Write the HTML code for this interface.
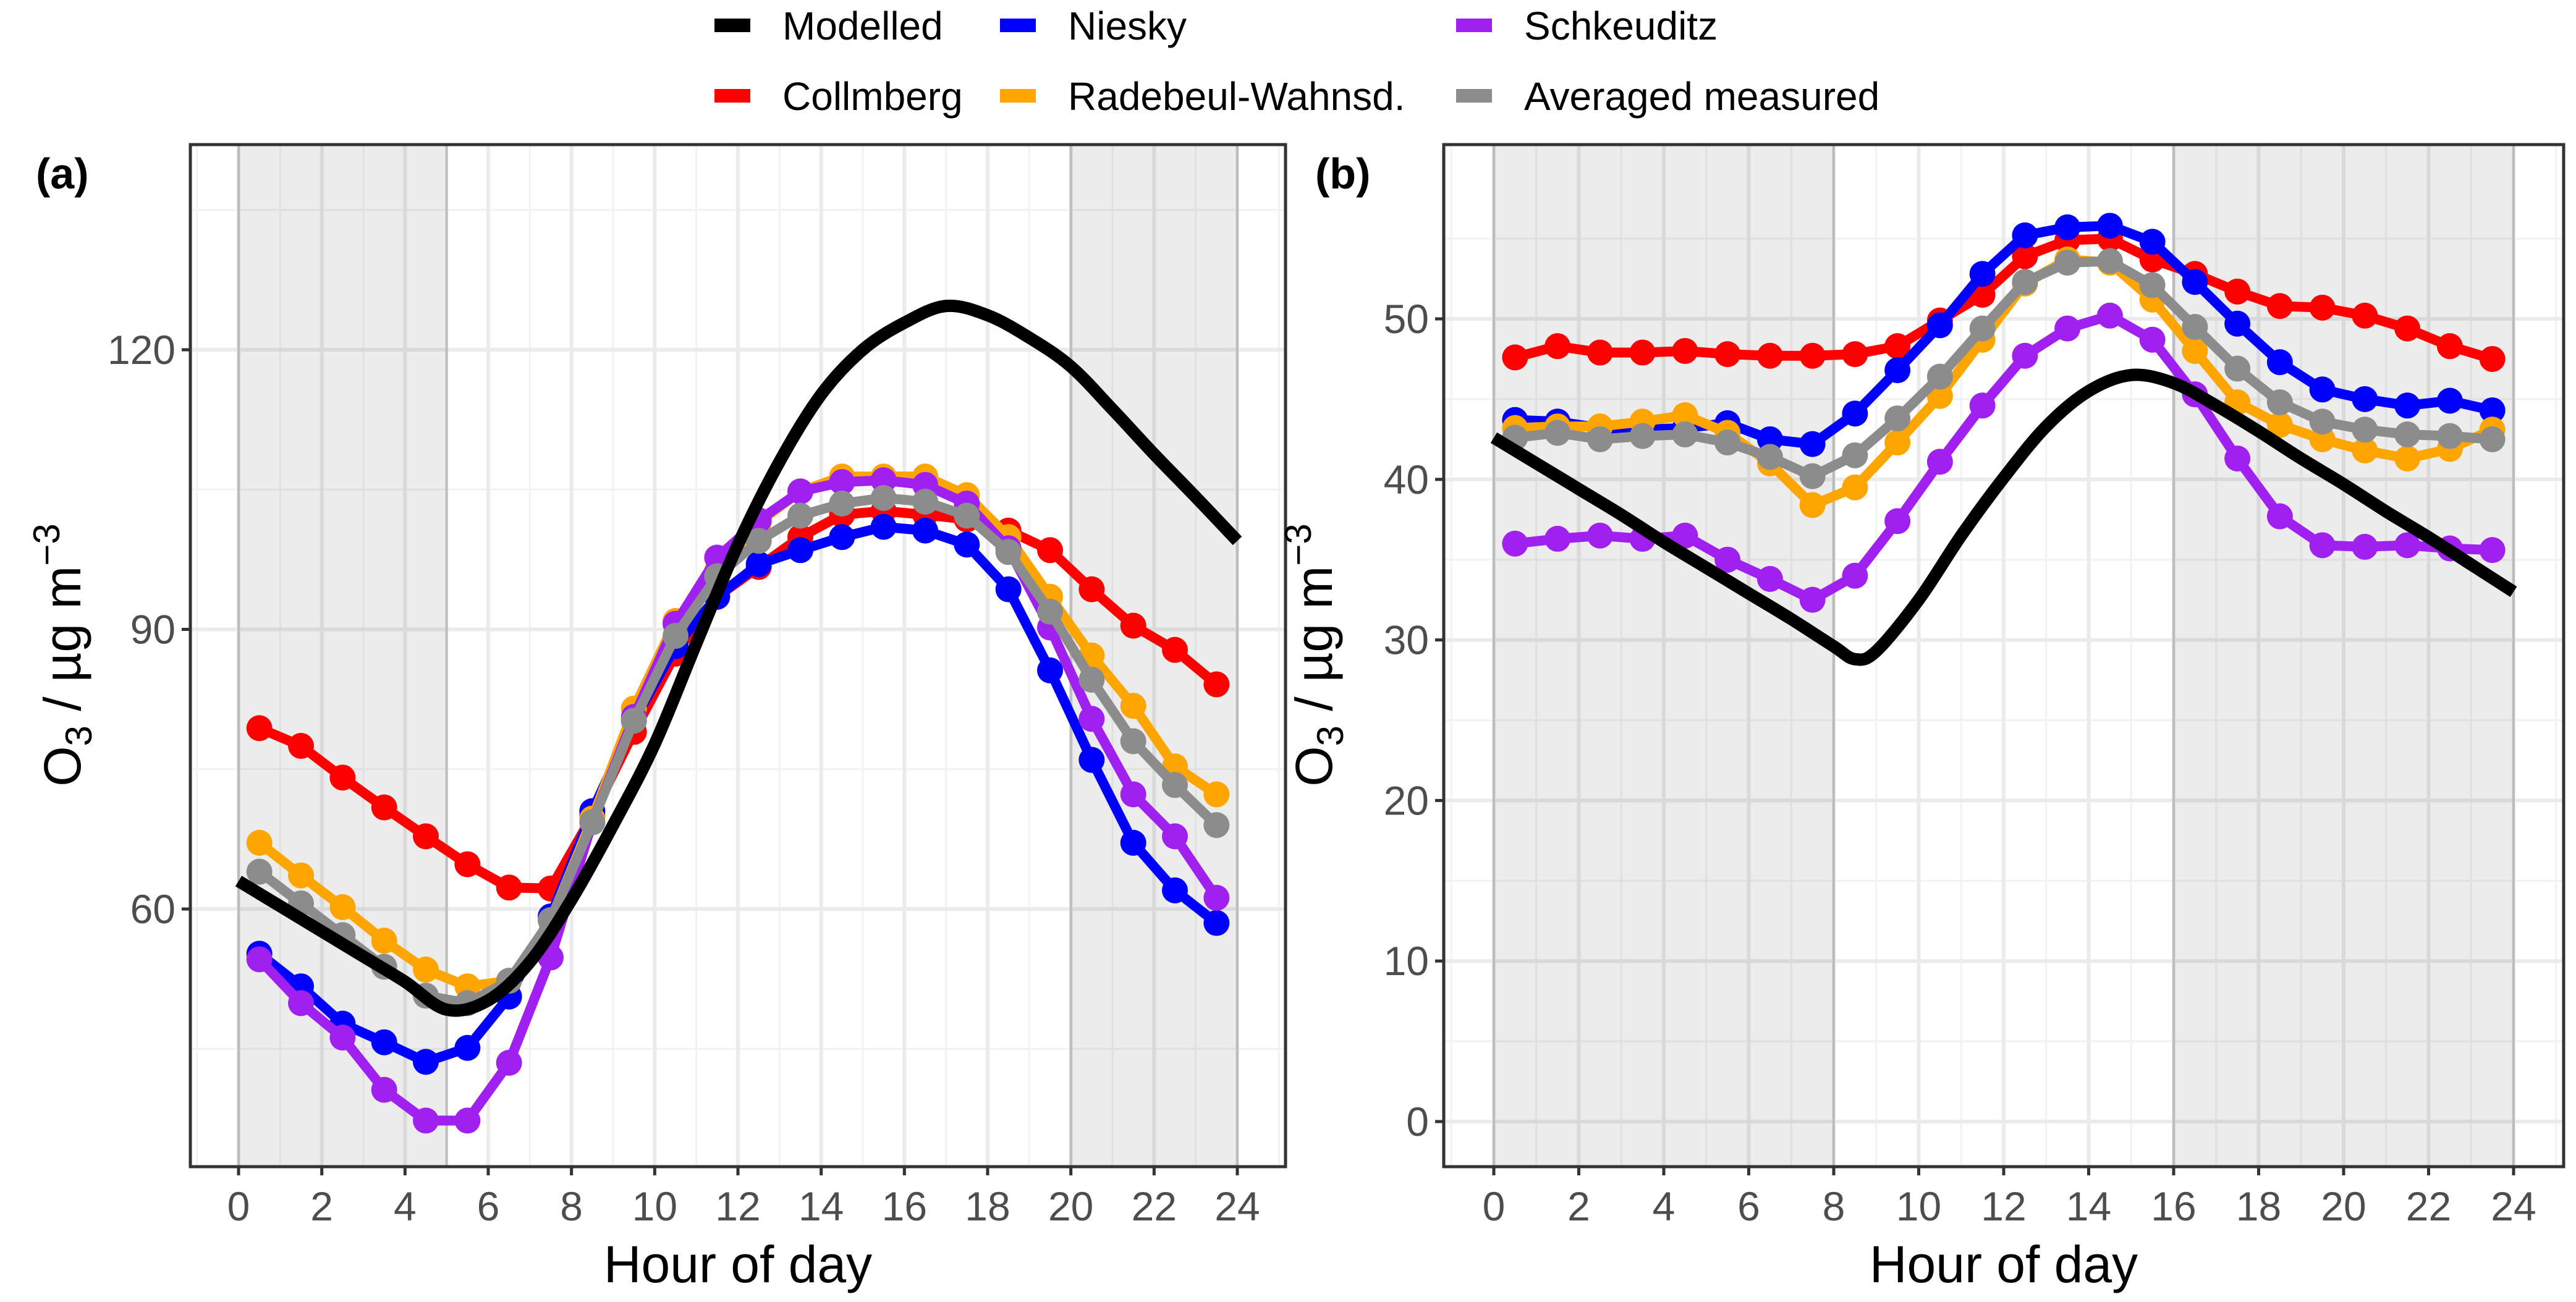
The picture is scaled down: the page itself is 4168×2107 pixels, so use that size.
<!DOCTYPE html>
<html><head><meta charset="utf-8"><style>
body{margin:0;background:#fff}
svg{display:block;font-family:"Liberation Sans",sans-serif}
</style></head><body>
<svg id="chart" width="4168" height="2107" viewBox="0 0 4168 2107" xmlns="http://www.w3.org/2000/svg">
<g id="legend"></g>
<g id="pa"></g>
<g id="pb"></g>
</svg>
<script>
const hours = [0.5,1.5,2.5,3.5,4.5,5.5,6.5,7.5,8.5,9.5,10.5,11.5,12.5,13.5,14.5,15.5,16.5,17.5,18.5,19.5,20.5,21.5,22.5,23.5];
const seriesNames = ["Collmberg","Niesky","Radebeul-Wahnsd.","Schkeuditz","Averaged measured"];
const aCollmberg = [79.4,77.5,74.1,70.9,67.8,64.8,62.3,62.2,70,79,87.4,93.5,96.7,99.9,102.3,102.7,102.3,101.8,100.6,98.5,94.3,90.4,87.8,84.1];
const aNiesky = [55.2,51.7,47.7,45.7,43.6,45.1,50.6,59.2,70.5,80.2,88.2,93.5,97.0,98.5,99.9,101.0,100.6,99.1,94.3,85.6,76.0,67.1,62.0,58.5];
const aRadebeul = [67.1,63.6,60.2,56.6,53.5,51.7,52.3,58.8,69.7,81.5,90.9,96.3,101.5,104.8,106.4,106.4,106.4,104.4,99.9,93.5,87.2,81.8,75.3,72.3];
const aSchkeuditz = [54.6,49.9,46.2,40.6,37.3,37.3,43.5,54.8,69.3,80.6,90.6,97.7,101.7,104.8,105.8,106.0,105.5,103.5,98.7,90.2,80.4,72.3,67.8,61.2];
const aAveraged = [64.0,60.6,57.2,53.8,50.7,49.9,52.3,58.8,69.3,80.2,89.3,95.7,99.5,102.2,103.5,104.1,103.7,102.2,98.3,91.9,84.6,78.0,73.3,69.0];
const aModelHours = [0,1,2,3,4,5,6,7,8,9,10,11,12,13,14,15,16,17,18,19,20,21,22,23,24];
const aModelled = [63,60.3,57.6,54.9,52.2,49.2,50.2,54.3,61.0,69.0,77.7,88.5,99.1,108.0,115.2,120.0,122.9,124.7,123.7,121.3,118.2,113.6,108.8,104.2,99.5];
const bCollmberg = [47.6,48.3,47.9,47.9,48.0,47.8,47.7,47.7,47.8,48.3,49.9,51.5,53.9,54.9,55.0,53.7,52.8,51.7,50.8,50.7,50.2,49.4,48.3,47.5];
const bNiesky = [43.7,43.6,43.2,43.1,43.2,43.5,42.5,42.2,44.1,46.8,49.6,52.8,55.2,55.7,55.8,54.8,52.3,49.7,47.3,45.6,45.0,44.6,44.9,44.3];
const bRadebeul = [43.2,43.3,43.3,43.6,44.0,42.9,41.0,38.4,39.5,42.3,45.2,48.7,52.2,53.7,53.5,51.2,48.0,44.8,43.4,42.5,41.8,41.3,41.9,43.1];
const bSchkeuditz = [36.0,36.3,36.5,36.3,36.5,35.0,33.8,32.5,34.0,37.4,41.1,44.6,47.7,49.4,50.2,48.7,45.3,41.3,37.7,35.9,35.8,35.9,35.7,35.6];
const bAveraged = [42.6,42.9,42.5,42.7,42.8,42.3,41.4,40.2,41.5,43.8,46.4,49.4,52.3,53.5,53.6,52.1,49.5,46.9,44.8,43.6,43.1,42.8,42.7,42.5];
const bModelHours = [0,1,2,3,4,5,6,7,8,8.5,9,10,11,12,13,14,15,16,17,18,19,20,21,22,23,24];
const bModelled = [42.6,41.0,39.4,37.8,36.1,34.5,32.9,31.3,29.6,28.8,29.3,32.5,36.5,40.1,43.3,45.5,46.5,46.0,44.6,43.0,41.3,39.7,38.0,36.4,34.7,33.0];
const xTicks = [0,2,4,6,8,10,12,14,16,18,20,22,24];
const aYTicks = [60,90,120];
const bYTicks = [0,10,20,30,40,50];

const NS="http://www.w3.org/2000/svg";
function mk(parent,tag,attrs){const e=document.createElementNS(NS,tag);for(const k in attrs)e.setAttribute(k,attrs[k]);parent.appendChild(e);return e;}
const colors={"Collmberg":"#ff0000","Niesky":"#0000ff","Radebeul-Wahnsd.":"#ffa500","Schkeuditz":"#a020f0","Averaged measured":"#8c8c8c"};

function smoothPath(pts){
  let d="M"+pts[0][0]+","+pts[0][1];
  for(let i=0;i<pts.length-1;i++){
    const p0=pts[Math.max(0,i-1)],p1=pts[i],p2=pts[i+1],p3=pts[Math.min(pts.length-1,i+2)];
    const c1=[p1[0]+(p2[0]-p0[0])/6,p1[1]+(p2[1]-p0[1])/6];
    const c2=[p2[0]-(p3[0]-p1[0])/6,p2[1]-(p3[1]-p1[1])/6];
    d+=" C"+c1[0]+","+c1[1]+" "+c2[0]+","+c2[1]+" "+p2[0]+","+p2[1];
  }
  return d;
}

function panel(g,cfg){
  const {L,R,T,B,x0px,x24px,ymin,ymax,yv1,yp1,yv2,yp2}=cfg;
  const sx=h=>x0px+(x24px-x0px)*h/24;
  const sy=v=>yp1+(v-yv1)*(yp2-yp1)/(yv2-yv1);
  const bg=mk(g,"rect",{x:L,y:T,width:R-L,height:B-T,fill:"#fff"});
  
  
  // minor y grid
  for(const v of cfg.yMinor){mk(g,"line",{x1:L,x2:R,y1:sy(v),y2:sy(v),stroke:"#f2f2f2","stroke-width":3});}
  for(let h=-1;h<=25;h+=2){const x=sx(h);if(x>L&&x<R)mk(g,"line",{x1:x,x2:x,y1:T,y2:B,stroke:"#f2f2f2","stroke-width":3});}
  for(const v of cfg.yTicks){mk(g,"line",{x1:L,x2:R,y1:sy(v),y2:sy(v),stroke:"#ebebeb","stroke-width":6});}
  for(const h of xTicks){mk(g,"line",{x1:sx(h),x2:sx(h),y1:T,y2:B,stroke:"#ebebeb","stroke-width":6});}
  // night shading
  for(const [a,b] of cfg.night){
    const r=mk(g,"rect",{x:sx(a),y:T,width:sx(b)-sx(a),height:B-T,fill:"#000","fill-opacity":0.075});
    
    
    mk(g,"line",{x1:sx(a),x2:sx(a),y1:T,y2:B,stroke:"#bdbdbd","stroke-width":4});
    mk(g,"line",{x1:sx(b),x2:sx(b),y1:T,y2:B,stroke:"#bdbdbd","stroke-width":4});
  }
  // measured series
  const order=["Collmberg","Niesky","Radebeul-Wahnsd.","Schkeuditz","Averaged measured"];
  order.forEach((name,i)=>{
    const vals=cfg.series[i];
    const pts=hours.map((h,j)=>[sx(h),sy(vals[j])]);
    const sg=mk(g,"g",{});
    
    
    mk(sg,"polyline",{points:pts.map(p=>p.join(",")).join(" "),fill:"none",stroke:colors[name],"stroke-width":16,"stroke-linejoin":"round"});
    pts.forEach(p=>{const c=mk(sg,"circle",{cx:p[0],cy:p[1],r:21,fill:colors[name]});
      
      });
  });
  const mp=cfg.mh.map((h,j)=>[sx(h),sy(cfg.mv[j])]);
  const ml=mk(g,"path",{d:smoothPath(mp),fill:"none",stroke:"#000","stroke-width":20,"stroke-linejoin":"round"});
  
  
  const br=mk(g,"rect",{x:L,y:T,width:R-L,height:B-T,fill:"none",stroke:"#333","stroke-width":5});
  
  
  for(const h of xTicks){
    mk(g,"line",{x1:sx(h),x2:sx(h),y1:B,y2:B+14,stroke:"#333","stroke-width":5});
    const t=mk(g,"text",{x:sx(h),y:1975,"text-anchor":"middle","font-size":66,fill:"#4d4d4d"});t.textContent=h;
    
    
  }
  for(const v of cfg.yTicks){
    mk(g,"line",{x1:L-14,x2:L,y1:sy(v),y2:sy(v),stroke:"#333","stroke-width":5});
    const t=mk(g,"text",{x:L-24,y:sy(v)+23,"text-anchor":"end","font-size":66,fill:"#4d4d4d"});t.textContent=v;
    
    
  }
  const xt=mk(g,"text",{x:(L+R)/2,y:2075,"text-anchor":"middle","font-size":84,fill:"#000"});xt.textContent="Hour of day";
  
  
  const yt=mk(g,"text",{transform:`translate(${cfg.ytx},1060) rotate(-90)`,"text-anchor":"middle","font-size":84,fill:"#000"});
  
  
  yt.innerHTML='O<tspan font-size="60" dy="18">3</tspan><tspan dy="-18"> / µg m</tspan><tspan font-size="60" dy="-34">−3</tspan>';
  const pl=mk(g,"text",{x:cfg.labx,y:305,"font-size":70,"font-weight":"bold",fill:"#000"});pl.textContent=cfg.lab;
  
  
}

panel(document.getElementById("pa"),{L:308,R:2080,T:234,B:1888,x0px:386,x24px:2002,yv1:120,yp1:566,yv2:60,yp2:1471,
  yTicks:aYTicks,yMinor:[45,75,105,135],night:[[0,5],[20,24]],
  series:[aCollmberg,aNiesky,aRadebeul,aSchkeuditz,aAveraged],mh:aModelHours,mv:aModelled,ytx:130,labx:58,lab:"(a)"});
panel(document.getElementById("pb"),{L:2336,R:4148,T:234,B:1888,x0px:2417,x24px:4067,yv1:50,yp1:516,yv2:0,yp2:1815,
  yTicks:bYTicks,yMinor:[5,15,25,35,45,55],night:[[0,8],[16,24]],
  series:[bCollmberg,bNiesky,bRadebeul,bSchkeuditz,bAveraged],mh:bModelHours,mv:bModelled,ytx:2155,labx:2128,lab:"(b)"});

// legend
const leg=document.getElementById("legend");
const legItems=[["Modelled","#000",1156,41],["Niesky","#0000ff",1618,41],["Schkeuditz","#a020f0",2356,41],
  ["Collmberg","#ff0000",1156,155],["Radebeul-Wahnsd.","#ffa500",1618,155],["Averaged measured","#8c8c8c",2356,155]];
legItems.forEach(([n,c,x,y])=>{
  const g=mk(leg,"g",{});
  
  
  mk(g,"rect",{x:x,y:y-11,width:58,height:22,fill:c});
  const t=mk(g,"text",{x:x+110,y:y+23,"font-size":64,fill:"#000"});t.textContent=n;
});
</script>
</body></html>
